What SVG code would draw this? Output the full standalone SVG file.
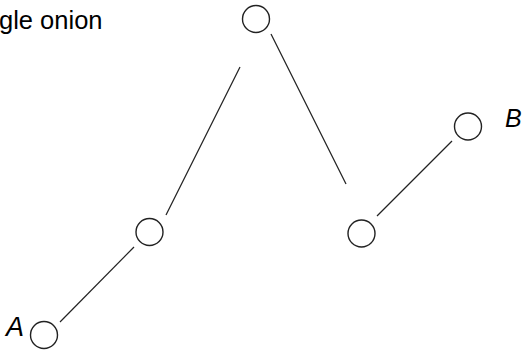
<svg xmlns="http://www.w3.org/2000/svg" width="527" height="350" viewBox="0 0 527 350">
<style>
.n{fill:#fff;stroke:#222;stroke-width:1.4}
.e{stroke:#222;stroke-width:1.2;fill:none}
.t{font-family:"Liberation Sans",Arial,sans-serif;font-size:25.5px;fill:#000}
.l{font-family:"Liberation Sans",Arial,sans-serif;font-style:italic;fill:#000}
</style>
<rect width="527" height="350" fill="#fff"/>
<text class="t" x="-1" y="28.5">gle onion</text>
<g id="edges">
<line class="e" x1="60" y1="322" x2="134" y2="247"/>
<line class="e" x1="166" y1="215" x2="240" y2="67"/>
<line class="e" x1="271" y1="34" x2="346" y2="184"/>
<line class="e" x1="377" y1="216" x2="452" y2="141"/>
</g>
<g id="nodeA"><circle class="n" cx="44" cy="335" r="13.5"/><text class="l" x="6" y="336" font-size="27">A</text></g>
<g id="node2"><circle class="n" cx="149.5" cy="232" r="13.5"/></g>
<g id="node3"><circle class="n" cx="256" cy="19" r="13.5"/></g>
<g id="node4"><circle class="n" cx="361.5" cy="233.5" r="13.5"/></g>
<g id="nodeB"><circle class="n" cx="468" cy="126.5" r="13.5"/><text class="l" x="505" y="127" font-size="25">B</text></g>
</svg>
